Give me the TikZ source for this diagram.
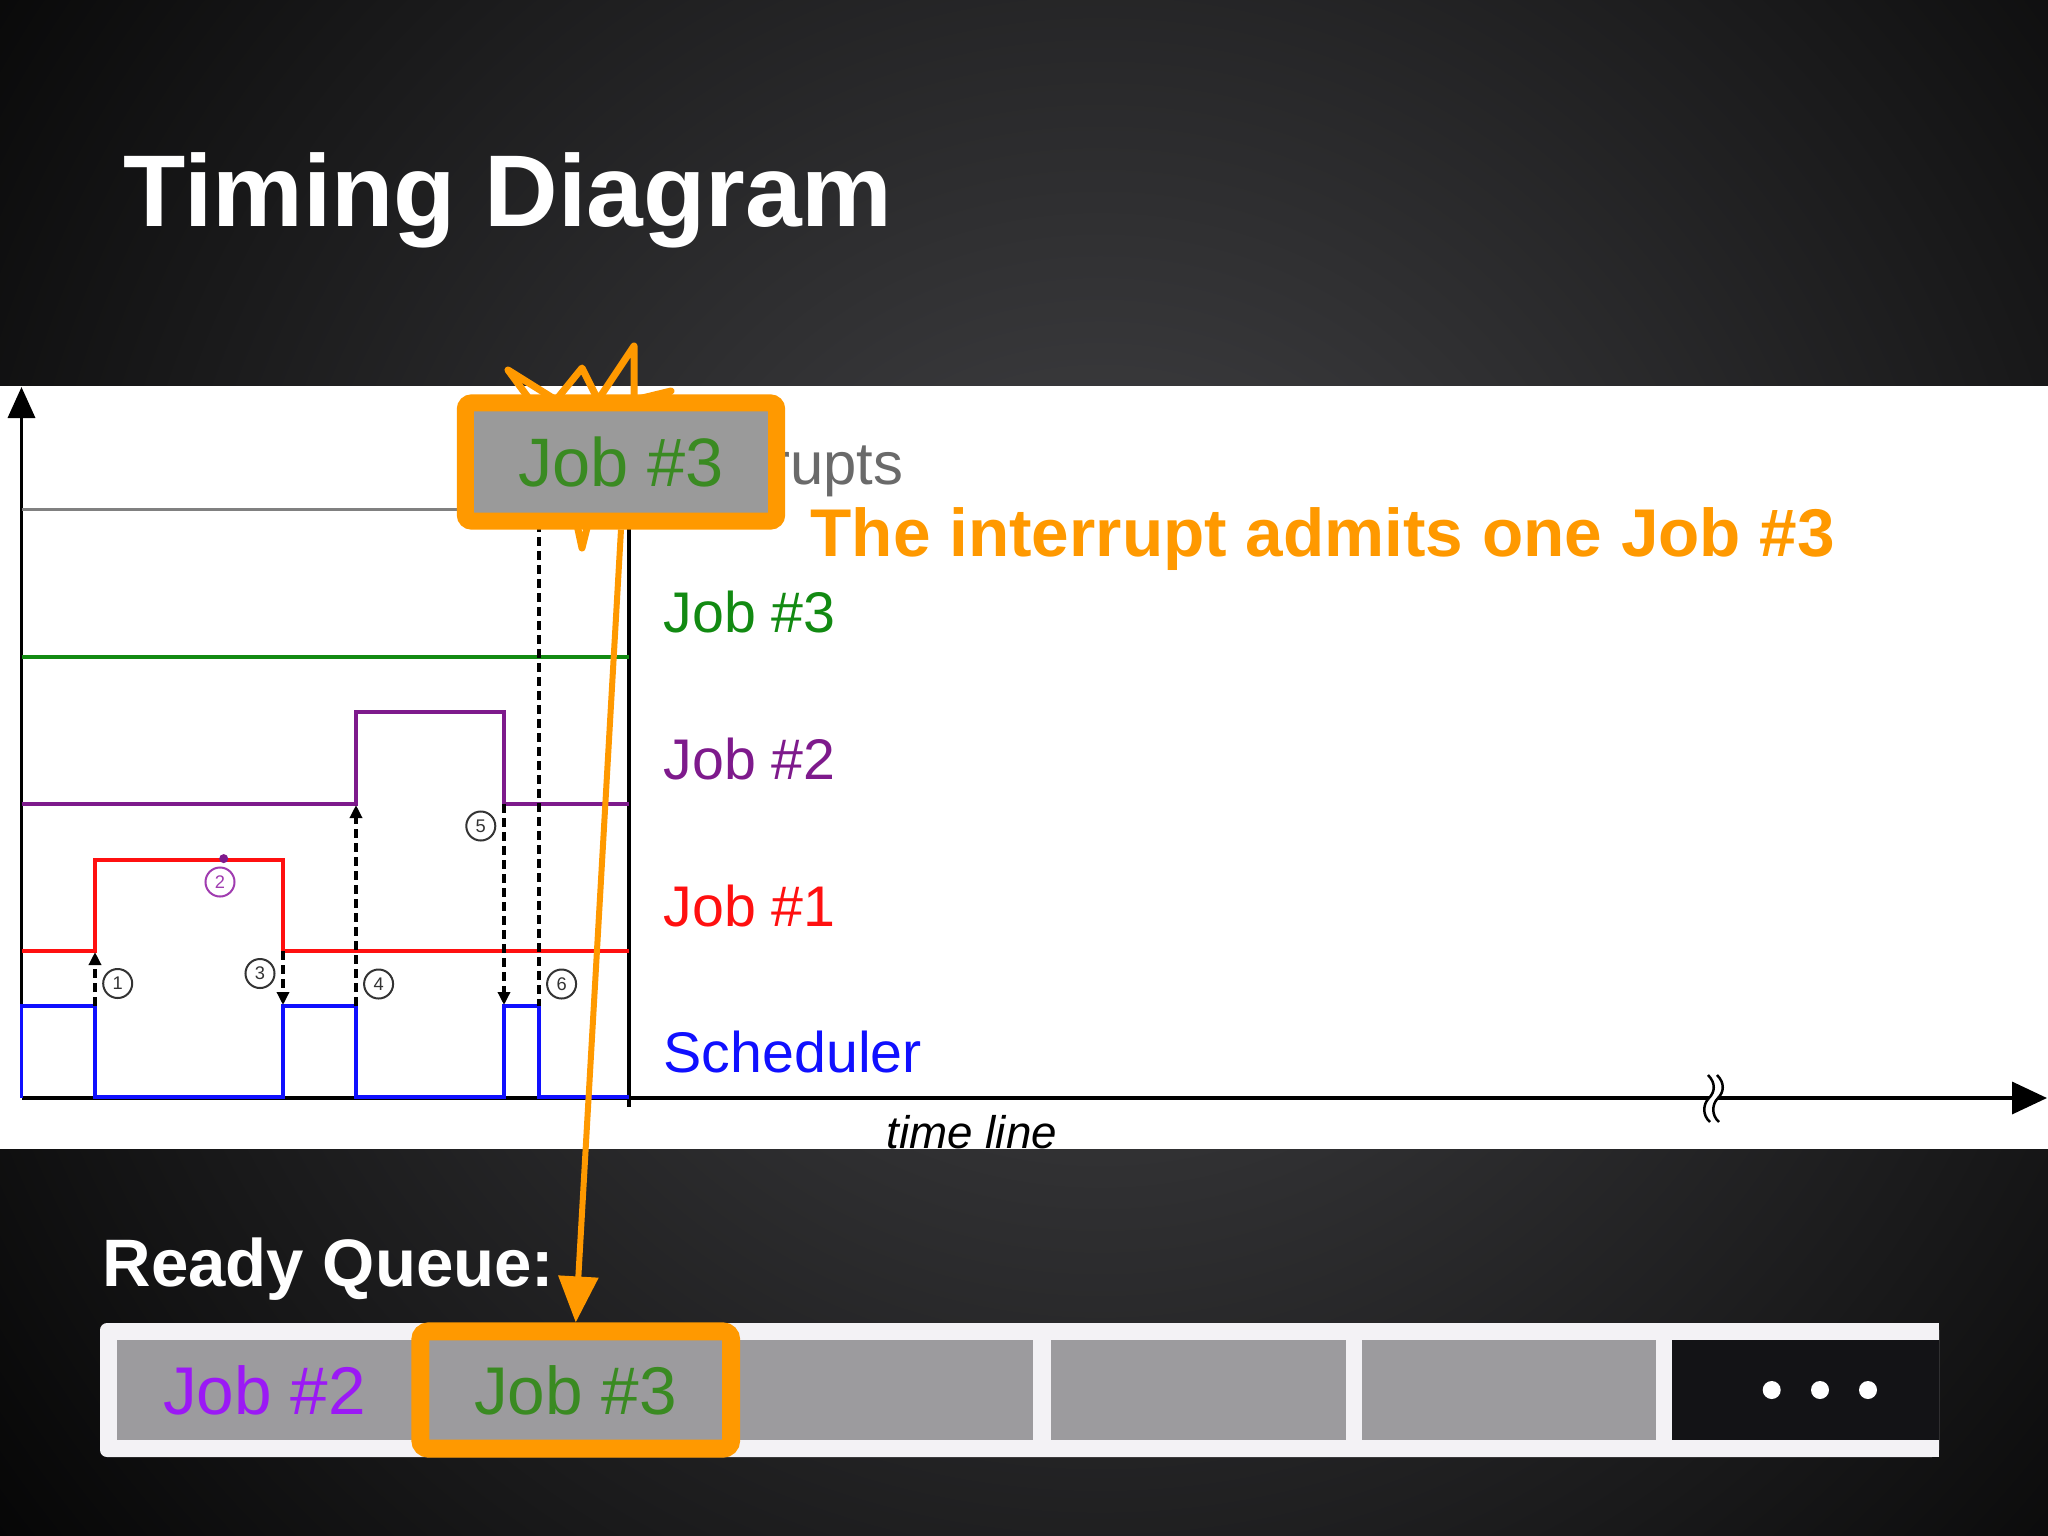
\documentclass[tikz,border=0pt]{standalone}
\usepackage{fontspec}
\setmainfont{Liberation Sans}
\usetikzlibrary{arrows.meta}
\definecolor{orng}{HTML}{FF9900}
\definecolor{bgin}{HTML}{464649}
\definecolor{bgout}{HTML}{030303}
\definecolor{cellgray}{HTML}{9C9B9E}
\definecolor{popgray}{HTML}{9A9A9A}
\definecolor{jgreen}{HTML}{128A12}
\definecolor{boxgreen}{HTML}{3A8A22}
\definecolor{jpurple}{HTML}{7E1A8C}
\definecolor{numpurple}{HTML}{A03CB0}
\definecolor{qpurple}{HTML}{9B19F5}
\definecolor{jred}{HTML}{FF1010}
\definecolor{jblue}{HTML}{1010FF}
\definecolor{intgray}{HTML}{6A6A6A}
\definecolor{numgray}{HTML}{333333}
\definecolor{barwhite}{HTML}{F3F2F5}
\definecolor{cellblack}{HTML}{131316}
\begin{document}
\begin{tikzpicture}[x=0.01cm,y=-0.01cm,
  wave/.style={line width=0.035cm, line join=miter},
  dsh/.style={line width=0.035cm, dash pattern=on 0.09cm off 0.05cm, -{Triangle[length=0.13cm,width=0.12cm]}},
  num/.style={circle, draw=numgray, line width=0.02cm, minimum size=0.29cm, inner sep=0, text=numgray, font=\fontsize{5.2}{6}\selectfont},
  lbl/.style={inner sep=0, anchor=base west, font=\fontsize{16.3}{19}\selectfont},
  cell/.style={fill=cellgray, minimum width=2.94cm, minimum height=1cm, inner sep=0, font=\fontsize{19.2}{23}\selectfont},
  dotmark/.style={circle, fill=white, minimum size=0.18cm, inner sep=0},
]
\useasboundingbox (0,0) rectangle (2048,1536);
% background
\fill[bgout] (0,0) rectangle (2048,1536);
\begin{scope}
  \clip (0,0) rectangle (2048,1536);
  \shade[inner color=bgin, outer color=bgout] (1100,700) circle[radius=14.5cm];
\end{scope}
% title
\node[inner sep=0, anchor=base west, text=white, font=\fontsize{29}{34}\selectfont\bfseries] (title) at (123,226) {Timing Diagram};
% white panel
\fill[white] (0,386) rectangle (2048,1149);
\begin{scope}
  \clip (0,386) rectangle (2048,1149);
  \coordinate (o) at (21.5,1098);
  \coordinate (ytop) at (21.5,387);
  \coordinate (xend) at (2047,1098);
  \coordinate (vtop) at (629,520);
  \coordinate (vbot) at (629,1107);
  \draw[line width=0.035cm, -{Triangle[length=0.31cm,width=0.27cm]}] (o) -- (ytop);
  \draw[line width=0.035cm, -{Triangle[length=0.35cm,width=0.32cm]}] (o) -- (xend);
  \draw[line width=0.035cm] (vtop) -- (vbot);
  % signal lines
  \draw[line width=0.03cm, draw=intgray!85] (21.5,509) -- (629,509);
  \draw[wave, jgreen] (21.5,657) -- (629,657);
  \draw[wave, jpurple] (21.5,804) -- (356,804) -- (356,712) -- (504,712) -- (504,804) -- (629,804);
  \draw[wave, jred] (21.5,951) -- (95,951) -- (95,860) -- (283,860) -- (283,951) -- (629,951);
  \draw[wave, jblue] (21.5,1098) -- (21.5,1006) -- (95,1006) -- (95,1097) -- (283,1097) -- (283,1006) -- (356,1006) -- (356,1097) -- (504,1097) -- (504,1006) -- (539,1006) -- (539,1097) -- (629,1097);
  % dashed transitions
  \draw[dsh] (95,1006) -- (95,952);
  \draw[dsh] (283,951) -- (283,1005);
  \draw[dsh] (356,1006) -- (356,805);
  \draw[dsh] (504,804) -- (504,1005);
  \draw[line width=0.035cm, dash pattern=on 0.09cm off 0.05cm] (539,509) -- (539,1006);
  % circled numbers
  \node[num] (n1) at (117.7,983.5) {1};
  \node[num, draw=numpurple, text=numpurple] (n2) at (220,882) {2};
  \node[num] (n3) at (260,973.5) {3};
  \node[num] (n4) at (378.6,984) {4};
  \node[num] (n5) at (480.8,826) {5};
  \node[num] (n6) at (561.6,984) {6};
  \fill[jpurple] (223.7,858.6) circle[radius=0.045cm];
  % labels
  \node[lbl, text=jgreen] (l3) at (663,632) {Job \#3};
  \node[lbl, text=jpurple] (l2) at (663,779) {Job \#2};
  \node[lbl, text=jred] (l1) at (663,926) {Job \#1};
  \node[lbl, text=jblue] (ls) at (663,1072) {Scheduler};
  \node[inner sep=0, anchor=base east, text=intgray, font=\fontsize{17}{20}\selectfont] (intr) at (904,484) {Interrupts};
  \node[inner sep=0, anchor=base west, font=\fontsize{13}{16}\selectfont\itshape] (tl) at (886,1148) {time line};
  % axis break
  \draw[white, line width=0.07cm] (1712.5,1075) .. controls (1720.5,1083) and (1719.5,1092) .. (1713.5,1098) .. controls (1707.5,1104) and (1706.5,1115) .. (1714.5,1122);
  \draw[line width=0.025cm] (1708,1075) .. controls (1716,1083) and (1715,1092) .. (1709,1098) .. controls (1703,1104) and (1702,1115) .. (1710,1122);
  \draw[line width=0.025cm] (1717,1075) .. controls (1725,1083) and (1724,1092) .. (1718,1098) .. controls (1712,1104) and (1711,1115) .. (1719,1122);
\end{scope}
% orange note
\node[inner sep=0, anchor=base west, text=orng, font=\fontsize{19.2}{23}\selectfont\bfseries] (note) at (810,556) {The interrupt admits one Job \#3};
% starburst behind popup
\draw[orng, line width=0.07cm, line join=round] (530,400) -- (508,370) -- (556,400) -- (582,368) -- (598,400) -- (634,346) -- (634,400) -- (671,391) -- (640,410) -- (640,500) -- (589,520) -- (582,548) -- (576,520) -- (520,500) -- cycle;
% popup
\node[draw=orng, line width=0.17cm, fill=popgray, rounded corners=0.06cm, minimum width=3.11cm, minimum height=1.18cm, inner sep=0, text=boxgreen, font=\fontsize{19.5}{23}\selectfont] (popup) at (621,462) {Job \#3};
% ready queue
\node[inner sep=0, anchor=base west, text=white, font=\fontsize{19.1}{23}\selectfont\bfseries] (rq) at (102,1286) {Ready Queue:};
\fill[barwhite, rounded corners=0.07cm] (100,1323) rectangle (1939,1457);
\fill[barwhite] (1900,1323) rectangle (1939,1457);
\node[cell, text=qpurple] (q1) at (264.5,1390) {Job \#2};
\node[cell, text=boxgreen] (q2) at (575.4,1390) {Job \#3};
\node[cell] (q3) at (886.3,1390) {};
\node[cell] (q4) at (1198.4,1390) {};
\node[cell] (q5) at (1509.3,1390) {};
\node[fill=cellblack, minimum width=2.67cm, minimum height=1cm, inner sep=0] (q6) at (1805.5,1390) {};
\node[dotmark] (d1) at (1771.7,1390) {};
\node[dotmark] (d2) at (1820,1390) {};
\node[dotmark] (d3) at (1868,1390) {};
\node[draw=orng, line width=0.18cm, rounded corners=0.08cm, minimum width=3.105cm, minimum height=1.17cm, inner sep=0] (hl) at (575.75,1390) {};
% arrow
\draw[orng, line width=0.06cm, -{Triangle[length=0.46cm,width=0.39cm]}] (popup.south) -- (hl.north);
\end{tikzpicture}
\end{document}
